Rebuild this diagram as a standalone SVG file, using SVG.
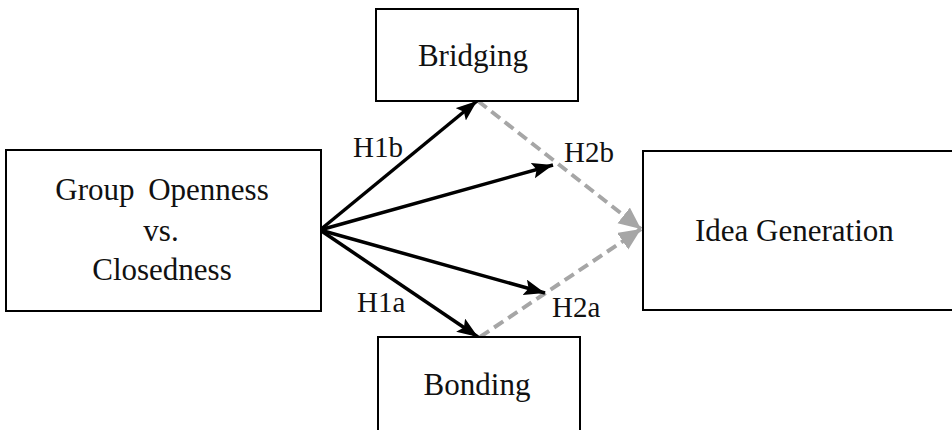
<svg xmlns="http://www.w3.org/2000/svg" width="952" height="430" viewBox="0 0 952 430">
<style>
.box{fill:#fff;stroke:#000;stroke-width:2}
.t{font-family:"Liberation Serif","Times New Roman",serif;font-size:31px;fill:#111}
.lb{font-family:"Liberation Serif","Times New Roman",serif;font-size:29px;fill:#111}
.ar{stroke:#000;stroke-width:3.5;fill:none}
.da{stroke:#a6a6a6;stroke-width:4;fill:none;stroke-dasharray:11 6}
</style>
<defs>
<marker id="ah" markerUnits="userSpaceOnUse" markerWidth="22" markerHeight="18" refX="21" refY="8" orient="auto">
<path d="M0,0 L21,8 L0,16 L4,8 z" fill="#000"/>
</marker>
<marker id="gh" markerUnits="userSpaceOnUse" markerWidth="24" markerHeight="22" refX="22" refY="10" orient="auto">
<path d="M0,0 L22,10 L0,20 z" fill="#a6a6a6"/>
</marker>
</defs>
<rect width="952" height="430" fill="#fff"/>
<g id="connectors">
<line class="da" x1="478" y1="101" x2="641" y2="229" marker-end="url(#gh)"/>
<line class="da" x1="480" y1="337" x2="641" y2="229" marker-end="url(#gh)"/>
<line class="ar" x1="320" y1="230" x2="477" y2="101" marker-end="url(#ah)"/>
<line class="ar" x1="320" y1="230" x2="553" y2="165" marker-end="url(#ah)"/>
<line class="ar" x1="320" y1="230" x2="545" y2="293" marker-end="url(#ah)"/>
<line class="ar" x1="320" y1="230" x2="478" y2="337" marker-end="url(#ah)"/>
<text class="lb" x="353" y="157">H1b</text>
<text class="lb" x="564" y="162">H2b</text>
<text class="lb" x="357" y="312">H1a</text>
<text class="lb" x="552" y="317">H2a</text>
</g>
<g id="group">
<rect class="box" x="6" y="150" width="315" height="161"/>
<text class="t" x="162" y="200" text-anchor="middle" word-spacing="6">Group Openness</text>
<text class="t" x="161" y="241" text-anchor="middle">vs.</text>
<text class="t" x="162" y="280" text-anchor="middle">Closedness</text>
</g>
<g id="bridging">
<rect class="box" x="376" y="9" width="202" height="92"/>
<text class="t" x="473" y="66" text-anchor="middle">Bridging</text>
</g>
<g id="bonding">
<rect class="box" x="378" y="337" width="202" height="100"/>
<text class="t" x="477" y="395" text-anchor="middle">Bonding</text>
</g>
<g id="idea">
<rect class="box" x="643" y="151" width="320" height="159"/>
<text class="t" x="695" y="241">Idea Generation</text>
</g>
</svg>
